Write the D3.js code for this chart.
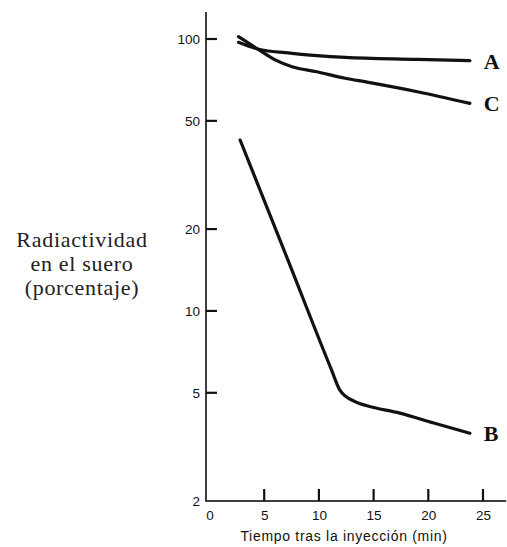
<!DOCTYPE html>
<html>
<head>
<meta charset="utf-8">
<script src="https://cdn.jsdelivr.net/npm/d3@7"></script>
<style>
  body { margin: 0; background: #fff; }
  svg { display: block; }
  .tick text { font-family: "Liberation Sans", Arial, sans-serif; font-size: 13.5px; fill: #111; }
</style>
</head>
<body>
<div id="chart"></div>
<script>
var svgWidth = 507;
var svgHeight = 547;

// data (time in min, radioactivity in %)
var timeA = [2.65, 4.4, 7.55, 12.4, 19, 23.8];
var valA = [97.2, 91.9, 88.6, 85.6, 84.2, 83.2];

var timeB = [2.8, 7.0, 11.15, 11.9, 13.3, 14.4, 17.4, 20.5, 23.8];
var valB = [42.5, 16.0, 6.07, 5.13, 4.64, 4.48, 4.21, 3.87, 3.55];

var timeC = [2.65, 4.4, 6.0, 7.55, 9.8, 12.4, 14.4, 19, 23.8];
var valC = [102, 91.9, 83.8, 79.1, 75.8, 71.7, 69.4, 64, 58];

var xTicks = [0, 5, 10, 15, 20, 25];
var yTicks = [2, 5, 10, 20, 50, 100];
var seriesNames = ["A", "B", "C"];
var yLabel = ["Radiactividad", "en el suero", "(porcentaje)"];
var xLabel = "Tiempo tras la inyección (min)";

var svg = d3.select("#chart")
    .append("svg")
    .attr("width", svgWidth)
    .attr("height", svgHeight);

var axisX0 = 206;   // where the y axis stands
var axisY0 = 501;   // where the x axis stands

var xScale = d3.scaleLinear()
    .domain([0, 25])
    .range([209.5, 483]);

var yScale = d3.scaleLog()
    .domain([2, 100])
    .range([axisY0, 39]);

// y ticks point inwards (none at 2, that is the x axis)
svg.append("g").selectAll("path")
    .data(yTicks.filter(d => d > 2))
    .enter()
    .append("path")
    .attr("d", d => `M${axisX0},${yScale(d) - 1.1}h11v2.2h-11z`)
    .attr("fill", "#111");

// x ticks point up, none at 0 where the y axis stands
svg.append("g").selectAll("path")
    .data(xTicks.filter(d => d > 0))
    .enter()
    .append("path")
    .attr("d", d => `M${xScale(d) - 1.1},${axisY0}v-12h2.2v12z`)
    .attr("fill", "#111");

// axis lines
svg.append("rect")
    .attr("x", axisX0 - 0.8).attr("y", 12)
    .attr("width", 1.6).attr("height", axisY0 - 12)
    .attr("fill", "#111");
svg.append("rect")
    .attr("x", axisX0 - 0.8).attr("y", axisY0 - 0.8)
    .attr("width", 507 - axisX0).attr("height", 1.6)
    .attr("fill", "#111");

// y axis labels
var leftAxis = d3.axisLeft(yScale)
    .tickValues(yTicks)
    .tickFormat(d3.format("d"))
    .tickSize(0)
    .tickPadding(6);

var gy = svg.append("g")
    .attr("transform", `translate(${axisX0}, 0)`)
    .call(leftAxis);
gy.select(".domain").remove();

// x axis labels
var bottomAxis = d3.axisBottom(xScale)
    .tickValues(xTicks)
    .tickFormat(d3.format("d"))
    .tickSize(0)
    .tickPadding(9);

var gx = svg.append("g")
    .attr("transform", `translate(0, ${axisY0})`)
    .call(bottomAxis);
gx.select(".domain").remove();

// curves
var line = d3.line()
    .x(d => xScale(d[0]))
    .y(d => yScale(d[1]))
    .curve(d3.curveMonotoneX);

var series = [
    d3.zip(timeA, valA),
    d3.zip(timeB, valB),
    d3.zip(timeC, valC)
];

svg.selectAll(".curve")
    .data(series)
    .enter()
    .append("path")
    .attr("class", "curve")
    .attr("d", line)
    .attr("fill", "none")
    .attr("stroke", "#111")
    .attr("stroke-width", 3.2)
    .attr("stroke-linecap", "round");

// series letters beside the last point
svg.selectAll(".name")
    .data(series)
    .enter()
    .append("text")
    .attr("class", "name")
    .attr("x", d => xScale(d[d.length - 1][0]) + 14)
    .attr("y", d => yScale(d[d.length - 1][1]) + 8)
    .style("font-family", "'Liberation Serif', 'Times New Roman', serif")
    .style("font-weight", "bold")
    .style("font-size", "22px")
    .style("fill", "#111")
    .text((d, i) => seriesNames[i]);

// axis labels
svg.append("text")
    .attr("x", 344)
    .attr("y", 541)
    .style("text-anchor", "middle")
    .style("font-family", "'Liberation Sans', Arial, sans-serif")
    .style("font-size", "14px")
    .style("letter-spacing", "0.7px")
    .style("fill", "#111")
    .text(xLabel);

svg.append("text")
    .selectAll("tspan")
    .data(yLabel)
    .enter()
    .append("tspan")
    .attr("x", 82)
    .attr("y", (d, i) => 247 + i * 24)
    .style("text-anchor", "middle")
    .style("font-family", "'Liberation Serif', 'Times New Roman', serif")
    .style("font-size", "22px")
    .style("letter-spacing", "0.7px")
    .style("fill", "#222")
    .text(d => d);
</script>
</body>
</html>
